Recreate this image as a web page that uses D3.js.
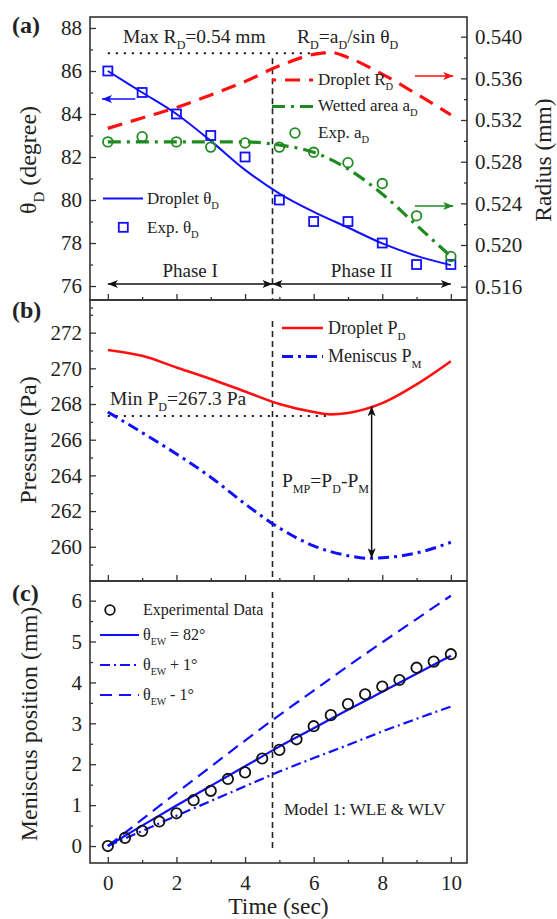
<!DOCTYPE html>
<html><head><meta charset="utf-8">
<script src="https://cdn.jsdelivr.net/npm/d3@7"></script>
<style>body{margin:0;background:#fff}svg{display:block}</style>
</head><body>
<svg id="chart" width="557" height="919"></svg>
<script>
// ---------------- DATA ----------------
const tInt = [0,1,2,3,4,5,6,7,8,9,10];
const thetaExp = [86,85,84,83,82,80,79,79,78,77,77];
const thetaModel = [86,85,84,82.75,81.4,80.3,79.45,78.72,77.98,77.4,76.97];
const aDExp = [0.5299,0.5304,0.5299,0.5294,0.5298,0.5294,0.5289,0.5279,0.5259,0.5228,0.5189];
const aDModel = [0.5299,0.5299,0.5299,0.5299,0.5299,0.5296,0.5289,0.5273,0.5249,0.5219,0.5189];
const tRD = [0,1,2,3,4,5,6,6.5,7,8,9,10];
const RDModel = [0.5312,0.5322,0.5332,0.5344,0.5357,0.5372,0.5383,0.5385,0.5380,0.5364,0.5345,0.5325];
const tP = [0,1,2,3,4,5,6,6.5,7,8,9,10];
const PD = [271.03,270.7,270.05,269.4,268.7,268.0,267.55,267.42,267.5,268.05,269.1,270.4];
const tPM = [0,1,2,3,4,5,6,7,7.6,8,9,10];
const PM = [267.55,266.4,265.2,263.9,262.4,261.05,260.05,259.5,259.35,259.38,259.65,260.25];
const tMen = [0,0.5,1,1.5,2,2.5,3,3.5,4,4.5,5,5.5,6,6.5,7,7.5,8,8.5,9,9.5,10];
const menExp = [0,0.2,0.37,0.6,0.8,1.12,1.35,1.64,1.8,2.14,2.35,2.61,2.93,3.2,3.47,3.71,3.9,4.06,4.36,4.51,4.69];
const menModel = [0,0.5,0.99,1.47,1.95,2.43,2.88,3.33,3.77,4.21,4.65];
const menPlus = [0,0.37,0.74,1.1,1.46,1.82,2.15,2.47,2.8,3.11,3.41];
const menMinus = [0,0.65,1.3,1.94,2.58,3.2,3.8,4.4,4.98,5.55,6.12];
const xTicks = [0,2,4,6,8,10];
const thetaTicks = [76,78,80,82,84,86,88];
const radiusTicks = [0.516,0.520,0.524,0.528,0.532,0.536,0.540];
const pressTicks = [260,262,264,266,268,270,272];
const menTicks = [0,1,2,3,4,5,6];
const phaseT = 4.8, maxRD = 0.5384, maxRDt = 6.35, minPD = 267.33, minPDt = 6.52, arrowT = 7.69;

// ---------------- SETUP ----------------
const svg = d3.select("#chart");
const FONT = "'Liberation Serif','Times New Roman',serif";
const BLUE = "#1010ff", RED = "#ff1010", GREEN = "#1f8a1f", FRAME = "#333";
const L = 90, R = 467;
const pa = {top:17, bot:300}, pb = {top:300, bot:581}, pc = {top:581, bot:863};
const TICKFS = 21, TITLEFS = 23.5, LEGFS = 17, ANNFS = 19.5;

const x = d3.scaleLinear().domain([-0.52,10.47]).range([L,R]);
const yA = d3.scaleLinear().domain([75.35,88.51]).range([pa.bot,pa.top]);
const yAR = d3.scaleLinear().domain([0.51472,0.54189]).range([pa.bot,pa.top]);
const yB = d3.scaleLinear().domain([258.08,273.83]).range([pb.bot,pb.top]);
const yC = d3.scaleLinear().domain([-0.415,6.48]).range([pc.bot,pc.top]);

// markers
const defs = svg.append("defs");
function marker(id,color){
  defs.append("marker").attr("id",id).attr("viewBox","0 0 10 8").attr("refX",10).attr("refY",4)
    .attr("markerWidth",11).attr("markerHeight",8).attr("markerUnits","userSpaceOnUse")
    .attr("orient","auto-start-reverse")
    .append("path").attr("d","M0,0 L10,4 L0,8 L2.5,4 z").attr("fill",color);
}
marker("ak","#111"); marker("ab",BLUE); marker("ar",RED); marker("ag",GREEN);

function rich(g, xx, yy, parts, size, opts={}){
  const t = g.append("text").attr("x",xx).attr("y",yy).attr("font-family",FONT)
    .attr("font-size",size).attr("fill",opts.fill||"#222");
  if(opts.anchor) t.attr("text-anchor",opts.anchor);
  if(opts.rotate) t.attr("transform",`rotate(${opts.rotate},${xx},${yy})`);
  if(opts.weight) t.attr("font-weight",opts.weight);
  let shifted = 0;
  parts.forEach(p=>{
    const s = t.append("tspan").text(p.t);
    if(p.sub){
      s.attr("font-size",size*0.62).attr("dy",size*0.32);
      shifted = size*0.32;
    } else if(shifted){
      s.attr("dy",-shifted); shifted=0;
    }
  });
  return t;
}

function yAxisInward(y, ticks, minors, side, fmt){
  const gx = side==="left" ? L : R;
  const ax = (side==="left"?d3.axisLeft(y):d3.axisRight(y)).tickValues(ticks).tickSize(-6).tickPadding(8)
    .tickFormat(fmt||d3.format("d"));
  const g = svg.append("g").attr("transform",`translate(${gx},0)`).call(ax);
  g.select(".domain").remove();
  g.selectAll("text").attr("font-family",FONT).attr("font-size",TICKFS).attr("fill","#222");
  g.selectAll("line").attr("stroke",FRAME).attr("stroke-width",1.3);
  const am = (side==="left"?d3.axisLeft(y):d3.axisRight(y)).tickValues(minors).tickSize(-3).tickFormat("");
  const gm = svg.append("g").attr("transform",`translate(${gx},0)`).call(am);
  gm.select(".domain").remove();
  gm.selectAll("line").attr("stroke",FRAME).attr("stroke-width",1.3);
}
function xAxisInward(yBottom, labels){
  const ax = d3.axisBottom(x).tickValues(xTicks).tickSize(-6).tickPadding(12).tickFormat(labels?d3.format("d"):"");
  const g = svg.append("g").attr("transform",`translate(0,${yBottom})`).call(ax);
  g.select(".domain").remove();
  g.selectAll("text").attr("font-family",FONT).attr("font-size",TICKFS).attr("fill","#222");
  g.selectAll("line").attr("stroke",FRAME).attr("stroke-width",1.3);
  const am = d3.axisBottom(x).tickValues([1,3,5,7,9]).tickSize(-3).tickFormat("");
  const gm = svg.append("g").attr("transform",`translate(0,${yBottom})`).call(am);
  gm.select(".domain").remove();
  gm.selectAll("line").attr("stroke",FRAME).attr("stroke-width",1.3);
}

const line = (xs, ys, ysc) => d3.line().curve(d3.curveMonotoneX)(xs.map((v,i)=>[x(v), ysc(ys[i])]));

// ---------------- PANEL A ----------------
const gA = svg.append("g");
gA.append("line").attr("x1",x(0)).attr("x2",x(maxRDt)).attr("y1",yAR(maxRD)).attr("y2",yAR(maxRD))
  .attr("stroke","#111").attr("stroke-width",2).attr("stroke-dasharray","2,6");
gA.append("line").attr("x1",x(phaseT)).attr("x2",x(phaseT)).attr("y1",yAR(maxRD)+5).attr("y2",pa.bot)
  .attr("stroke","#222").attr("stroke-width",1.6).attr("stroke-dasharray","6,4");
gA.append("path").attr("d",line(tInt,thetaModel,yA)).attr("fill","none").attr("stroke",BLUE).attr("stroke-width",2);
gA.append("path").attr("d",line(tInt,aDModel,yAR)).attr("fill","none").attr("stroke",GREEN).attr("stroke-width",3.2)
  .attr("stroke-dasharray","13,6,3,6");
gA.append("path").attr("d",line(tRD,RDModel,yAR)).attr("fill","none").attr("stroke",RED).attr("stroke-width",3.2)
  .attr("stroke-dasharray","15,9");
gA.selectAll(".sq").data(tInt).enter().append("rect")
  .attr("x",(d)=>x(d)-4.5).attr("y",(d,i)=>yA(thetaExp[i])-4.5).attr("width",9).attr("height",9)
  .attr("fill","none").attr("stroke",BLUE).attr("stroke-width",1.8);
gA.selectAll(".ci").data(tInt).enter().append("circle")
  .attr("cx",(d)=>x(d)).attr("cy",(d,i)=>yAR(aDExp[i])).attr("r",4.8)
  .attr("fill","none").attr("stroke",GREEN).attr("stroke-width",1.8);
gA.append("line").attr("x1",x(0.8)).attr("x2",x(-0.17)).attr("y1",yA(84.7)).attr("y2",yA(84.7))
  .attr("stroke",BLUE).attr("stroke-width",1.5).attr("marker-end","url(#ab)");
gA.append("line").attr("x1",x(8.95)).attr("x2",x(10.07)).attr("y1",yAR(0.53623)).attr("y2",yAR(0.53623))
  .attr("stroke",RED).attr("stroke-width",1.5).attr("marker-end","url(#ar)");
gA.append("line").attr("x1",x(8.95)).attr("x2",x(10.07)).attr("y1",yAR(0.52375)).attr("y2",yAR(0.52375))
  .attr("stroke",GREEN).attr("stroke-width",1.5).attr("marker-end","url(#ag)");
const yPh = 284;
gA.append("line").attr("x1",x(0)).attr("x2",x(phaseT)).attr("y1",yPh).attr("y2",yPh)
  .attr("stroke","#111").attr("stroke-width",1.5).attr("marker-start","url(#ak)").attr("marker-end","url(#ak)");
gA.append("line").attr("x1",x(phaseT)).attr("x2",x(10)).attr("y1",yPh).attr("y2",yPh)
  .attr("stroke","#111").attr("stroke-width",1.5).attr("marker-start","url(#ak)").attr("marker-end","url(#ak)");
rich(gA,(x(0)+x(phaseT))/2,277,[{t:"Phase I"}],19,{anchor:"middle"});
rich(gA,(x(phaseT)+x(10))/2,277,[{t:"Phase II"}],19,{anchor:"middle"});
rich(gA,123,43,[{t:"Max R"},{t:"D",sub:1},{t:"=0.54 mm"}],ANNFS);
rich(gA,297,43,[{t:"R"},{t:"D",sub:1},{t:"=a"},{t:"D",sub:1},{t:"/sin θ"},{t:"D",sub:1}],ANNFS);
// legend right
gA.append("line").attr("x1",272).attr("x2",315).attr("y1",80).attr("y2",80).attr("stroke",RED).attr("stroke-width",3.2).attr("stroke-dasharray","4,9,15,9");
rich(gA,318,85,[{t:"Droplet R"},{t:"D",sub:1}],LEGFS);
gA.append("line").attr("x1",272).attr("x2",314).attr("y1",106.5).attr("y2",106.5).attr("stroke",GREEN).attr("stroke-width",3.2).attr("stroke-dasharray","13,6,3,6");
rich(gA,318,111,[{t:"Wetted area a"},{t:"D",sub:1}],LEGFS);
gA.append("circle").attr("cx",295).attr("cy",133).attr("r",4.8).attr("fill","none").attr("stroke",GREEN).attr("stroke-width",1.8);
rich(gA,318,138,[{t:"Exp. a"},{t:"D",sub:1}],LEGFS);
// legend left
gA.append("line").attr("x1",103).attr("x2",143).attr("y1",198.5).attr("y2",198.5).attr("stroke",BLUE).attr("stroke-width",2);
rich(gA,147,204,[{t:"Droplet θ"},{t:"D",sub:1}],LEGFS);
gA.append("rect").attr("x",123.3-4.5).attr("y",227.3-4.5).attr("width",9).attr("height",9).attr("fill","none").attr("stroke",BLUE).attr("stroke-width",1.8);
rich(gA,147,233,[{t:"Exp. θ"},{t:"D",sub:1}],LEGFS);

yAxisInward(yA, thetaTicks, [75,77,79,81,83,85,87], "left");
yAxisInward(yAR, radiusTicks, [0.518,0.522,0.526,0.530,0.534,0.538], "right", d3.format(".3f"));
xAxisInward(pa.bot, false);

// ---------------- PANEL B ----------------
const gB = svg.append("g");
gB.append("line").attr("x1",x(0)).attr("x2",x(minPDt)).attr("y1",yB(minPD)).attr("y2",yB(minPD))
  .attr("stroke","#111").attr("stroke-width",2).attr("stroke-dasharray","2,6");
gB.append("line").attr("x1",x(phaseT)).attr("x2",x(phaseT)).attr("y1",321).attr("y2",pb.bot)
  .attr("stroke","#222").attr("stroke-width",1.6).attr("stroke-dasharray","6,4");
gB.append("path").attr("d",line(tP,PD,yB)).attr("fill","none").attr("stroke",RED).attr("stroke-width",2.6);
gB.append("path").attr("d",line(tPM,PM,yB)).attr("fill","none").attr("stroke",BLUE).attr("stroke-width",3)
  .attr("stroke-dasharray","11,5,3,5");
const pdAt = d3.scaleLinear().domain(tP).range(PD)(arrowT);
const pmAt = d3.scaleLinear().domain(tPM).range(PM)(arrowT);
gB.append("line").attr("x1",x(arrowT)).attr("x2",x(arrowT)).attr("y1",yB(pdAt)).attr("y2",yB(pmAt))
  .attr("stroke","#111").attr("stroke-width",1.5).attr("marker-start","url(#ak)").attr("marker-end","url(#ak)");
rich(gB,282,487,[{t:"P"},{t:"MP",sub:1},{t:"=P"},{t:"D",sub:1},{t:"-P"},{t:"M",sub:1}],ANNFS);
rich(gB,110,405,[{t:"Min P"},{t:"D",sub:1},{t:"=267.3 Pa"}],ANNFS);
gB.append("line").attr("x1",282).attr("x2",323).attr("y1",328).attr("y2",328).attr("stroke",RED).attr("stroke-width",2.6);
rich(gB,328,334,[{t:"Droplet P"},{t:"D",sub:1}],LEGFS+1);
gB.append("line").attr("x1",282).attr("x2",323).attr("y1",356.5).attr("y2",356.5).attr("stroke",BLUE).attr("stroke-width",3).attr("stroke-dasharray","11,5,3,5");
rich(gB,328,362,[{t:"Meniscus P"},{t:"M",sub:1}],LEGFS+1);

yAxisInward(yB, pressTicks, [259,261,263,265,267,269,271,273], "left");
xAxisInward(pb.bot, false);

// ---------------- PANEL C ----------------
const gC = svg.append("g");
gC.append("line").attr("x1",x(phaseT)).attr("x2",x(phaseT)).attr("y1",592).attr("y2",848)
  .attr("stroke","#222").attr("stroke-width",1.6).attr("stroke-dasharray","6,4");
gC.append("path").attr("d",line(tInt,menMinus,yC)).attr("fill","none").attr("stroke",BLUE).attr("stroke-width",2.2).attr("stroke-dasharray","12,7");
gC.append("path").attr("d",line(tInt,menPlus,yC)).attr("fill","none").attr("stroke",BLUE).attr("stroke-width",2.2).attr("stroke-dasharray","10,4,2,4");
gC.append("path").attr("d",line(tInt,menModel,yC)).attr("fill","none").attr("stroke",BLUE).attr("stroke-width",2.2);
gC.selectAll(".mc").data(tMen).enter().append("circle")
  .attr("cx",d=>x(d)).attr("cy",(d,i)=>yC(menExp[i])).attr("r",5.2)
  .attr("fill","none").attr("stroke","#111").attr("stroke-width",1.8);
gC.append("circle").attr("cx",110).attr("cy",610).attr("r",4.8).attr("fill","none").attr("stroke","#111").attr("stroke-width",1.8);
rich(gC,143,615,[{t:"Experimental Data"}],16);
gC.append("line").attr("x1",100).attr("x2",139).attr("y1",635).attr("y2",635).attr("stroke",BLUE).attr("stroke-width",2.2);
rich(gC,143,640,[{t:"θ"},{t:"EW",sub:1},{t:" = 82°"}],16);
gC.append("line").attr("x1",100).attr("x2",139).attr("y1",665).attr("y2",665).attr("stroke",BLUE).attr("stroke-width",2.2).attr("stroke-dasharray","10,4,2,4");
rich(gC,143,670,[{t:"θ"},{t:"EW",sub:1},{t:" + 1°"}],16);
gC.append("line").attr("x1",100).attr("x2",139).attr("y1",695).attr("y2",695).attr("stroke",BLUE).attr("stroke-width",2.2).attr("stroke-dasharray","12,7");
rich(gC,143,700,[{t:"θ"},{t:"EW",sub:1},{t:" - 1°"}],16);
rich(gC,284,815,[{t:"Model 1: WLE & WLV"}],17);

yAxisInward(yC, menTicks, [0.5,1.5,2.5,3.5,4.5,5.5], "left");
xAxisInward(pc.bot, true);

// ---------------- FRAMES & TITLES ----------------
[pa,pb,pc].forEach(p=>{
  svg.append("rect").attr("x",L).attr("y",p.top).attr("width",R-L).attr("height",p.bot-p.top)
    .attr("fill","none").attr("stroke",FRAME).attr("stroke-width",1.6);
});
rich(svg,36,160,[{t:"θ"},{t:"D",sub:1},{t:" (degree)"}],TITLEFS+0.5,{anchor:"middle",rotate:-90});
rich(svg,551,160,[{t:"Radius (mm)"}],TITLEFS,{anchor:"middle",rotate:-90});
rich(svg,36,440,[{t:"Pressure (Pa)"}],TITLEFS+0.5,{anchor:"middle",rotate:-90});
rich(svg,37,724,[{t:"Meniscus position (mm)"}],TITLEFS+0.5,{anchor:"middle",rotate:-90});
rich(svg,(L+R)/2,914,[{t:"Time (sec)"}],TITLEFS,{anchor:"middle"});
rich(svg,12,33,[{t:"(a)"}],24,{weight:"bold"});
rich(svg,12,318,[{t:"(b)"}],24,{weight:"bold"});
rich(svg,12,601,[{t:"(c)"}],24,{weight:"bold"});
</script>
</body></html>
